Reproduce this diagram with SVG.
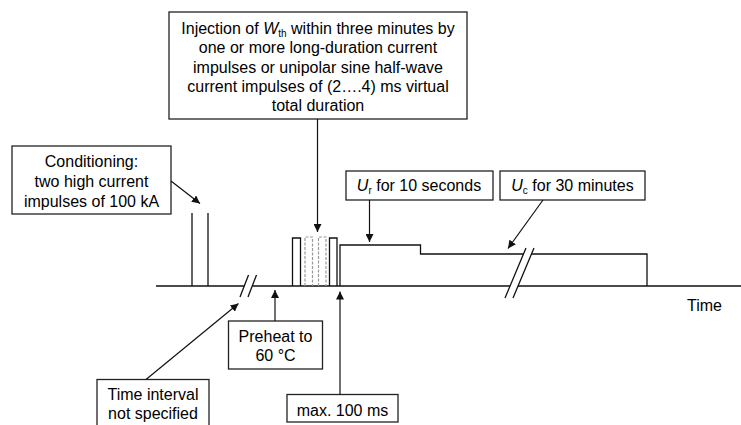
<svg xmlns="http://www.w3.org/2000/svg" width="741" height="425" viewBox="0 0 741 425">
<style>
text{font-family:"Liberation Sans",Arial,sans-serif;font-size:16px;fill:#000}
.c{text-anchor:middle}
.box{fill:#fff;stroke:#222;stroke-width:1.3}
.ln{fill:none;stroke:#111;stroke-width:1.3}
.ar{fill:none;stroke:#111;stroke-width:1.2;marker-end:url(#ah)}
.dash{fill:none;stroke:#999;stroke-width:1.2;stroke-dasharray:3 1.5}
.sub{font-size:10px}
</style>
<defs>
<marker id="ah" viewBox="0 0 10 10" refX="10" refY="5" markerWidth="8" markerHeight="8" markerUnits="userSpaceOnUse" orient="auto">
<path d="M0 0L10 5L0 10z" fill="#111"/>
</marker>
</defs>
<g id="signal">
<path class="ln" d="M156 286H244M252.5 286H510M518 286H741"/>
<path class="ln" d="M240 297L248.5 275M248 297L256.5 275"/>
<path class="ln" d="M505 298L526 248M513 298L534 248"/>
<path class="ln" d="M192 286V213M208 286V213"/>
<path class="ln" d="M292.5 286V238H300.5V286M329.5 286V238H337V286"/>
<path class="dash" d="M305 286V237H312.5V286M318.5 286V237H326V286"/>
<path class="ln" d="M340 286V245H420.5V254H523.5M531.5 254H647V286"/>
<text x="687" y="311">Time</text>
</g>
<g id="conditioning">
<rect class="box" x="12" y="146" width="159" height="68"/>
<text class="c" x="91.5" y="167">Conditioning:</text>
<text class="c" x="91.5" y="187">two high current</text>
<text class="c" x="91.5" y="207">impulses of 100 kA</text>
</g>
<g id="injection">
<rect class="box" x="169" y="12" width="298" height="107"/>
<text class="c" x="318" y="34">Injection of <tspan font-style="italic">W</tspan><tspan class="sub" dy="3">th</tspan><tspan dy="-3"> within three minutes by</tspan></text>
<text class="c" x="318" y="53.3">one or more long-duration current</text>
<text class="c" x="318" y="72.5">impulses or unipolar sine half-wave</text>
<text class="c" x="318" y="91.8">current impulses of (2….4) ms virtual</text>
<text class="c" x="318" y="111">total duration</text>
</g>
<g id="ur">
<rect class="box" x="346" y="171" width="147" height="29"/>
<text class="c" x="419" y="191"><tspan font-style="italic">U</tspan><tspan class="sub" dy="3">r</tspan><tspan dy="-3"> for 10 seconds</tspan></text>
</g>
<g id="uc">
<rect class="box" x="500" y="171" width="145" height="29"/>
<text class="c" x="572.5" y="191"><tspan font-style="italic">U</tspan><tspan class="sub" dy="3">c</tspan><tspan dy="-3"> for 30 minutes</tspan></text>
</g>
<g id="preheat">
<rect class="box" x="228.5" y="321" width="94" height="48"/>
<text class="c" x="275.5" y="341.5">Preheat to</text>
<text class="c" x="275.5" y="360.5">60 °C</text>
</g>
<g id="interval">
<rect class="box" x="97" y="379.5" width="112" height="55"/>
<text class="c" x="153" y="399.5">Time interval</text>
<text class="c" x="153" y="419">not specified</text>
</g>
<g id="maxms">
<rect class="box" x="287" y="394.5" width="111" height="27.5"/>
<text class="c" x="342.5" y="415.5">max. 100 ms</text>
</g>
<g id="connectors">
<path class="ar" d="M171 181L200 203.5"/>
<path class="ar" d="M317.5 119V232"/>
<path class="ar" d="M369.5 200V242"/>
<path class="ar" d="M543 200L508 248.5"/>
<path class="ar" d="M275 321V290"/>
<path class="ar" d="M146 379.5L238.5 303.5"/>
<path class="ar" d="M340 394.5V291.5"/>
</g>
</svg>
